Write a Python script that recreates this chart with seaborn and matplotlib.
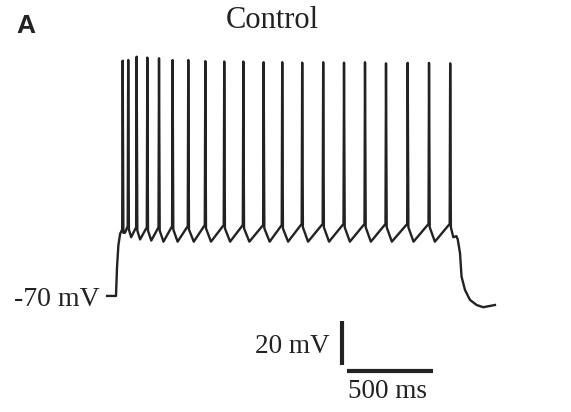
import seaborn as sns
import matplotlib.pyplot as plt
import pandas as pd

# membrane potential trace (ms, mV)
rest_v = -70
pre_t = [-52, 0]
onset_t = [6, 14, 24]
onset_v = [-57, -47, -42]
spike_t = [39, 71, 120, 182, 250, 329, 420, 519, 629, 740, 858, 966, 1082, 1204, 1325, 1447, 1569, 1695, 1819, 1942]
thr_v = [-40, -38.5, -39, -39, -39, -38.5, -38.5, -38, -38, -38, -38, -38, -37.5, -37.5, -37.5, -37.5, -37.5, -37.5, -37.5, -37.5]
peak_v = [36.2, 36.5, 38.0, 37.6, 37.3, 36.5, 36.5, 36.0, 35.8, 35.8, 35.5, 35.5, 35.3, 35.5, 35.3, 35.5, 35.0, 35.2, 35.2, 35.0]
trough_t = [52, 88, 140, 205, 276, 358, 452, 552, 663, 775, 893, 1000, 1116, 1238, 1359, 1481, 1603, 1729, 1853, 1960]
trough_v = [-41.5, -43.5, -44.5, -45, -45.5, -45.5, -45.5, -45.5, -45.5, -45.5, -45.5, -45.5, -45.5, -45.5, -45.5, -45.5, -45.5, -45.5, -45.5, -43.5]
offset_t = [1978, 1986, 1999, 2008, 2028, 2057, 2096, 2134, 2202]
offset_v = [-43, -44.5, -50.6, -61.3, -67.3, -71.8, -74.1, -75.1, -74.1]

bar_mv = 20
bar_ms = 500

# assemble the trace
tt = list(pre_t) + onset_t
vv = [rest_v, rest_v] + onset_v
for i in range(len(spike_t)):
    tt += [spike_t[i] - 3, spike_t[i], spike_t[i] + 4, trough_t[i]]
    vv += [thr_v[i], peak_v[i], thr_v[i] - 1.5, trough_v[i]]
tt += offset_t
vv += offset_v
trace = pd.DataFrame({'t': tt, 'v': vv})

fig = plt.figure(figsize=(5.71, 4.12), dpi=100)
ax = fig.add_axes([0, 0, 1, 1])
sns.lineplot(data=trace, x='t', y='v', sort=False, estimator=None,
             color='#222222', linewidth=1.7, ax=ax)
ax.set_xlim(-674, 2644)
ax.set_ylim(-122.4, 63.6)
ax.axis('off')

# scale bars
ax.vlines(1311, -81.2, -81.2 - bar_mv, color='#222222', linewidth=3)
ax.hlines(-103.9, 1344, 1344 + bar_ms, color='#222222', linewidth=3)

serif = 'Liberation Serif'
ax.text(-93, -74.5, '-70 mV', ha='right', va='baseline', fontsize=20, family=serif, color='#222222')
ax.text(1243, -95.7, f'{bar_mv} mV', ha='right', va='baseline', fontsize=19.5, family=serif, color='#222222')
ax.text(1348, -116.3, f'{bar_ms} ms', ha='left', va='baseline', fontsize=19.5, family=serif, color='#222222')
ax.text(909, 50.9, 'Control', ha='center', va='baseline', fontsize=22, family=serif, color='#222222')
fig.text(0.029, 0.919, 'A', ha='left', va='baseline', fontsize=19, family='Liberation Sans',
         weight='bold', color='#222222')

fig.savefig('out.png', dpi=100)
